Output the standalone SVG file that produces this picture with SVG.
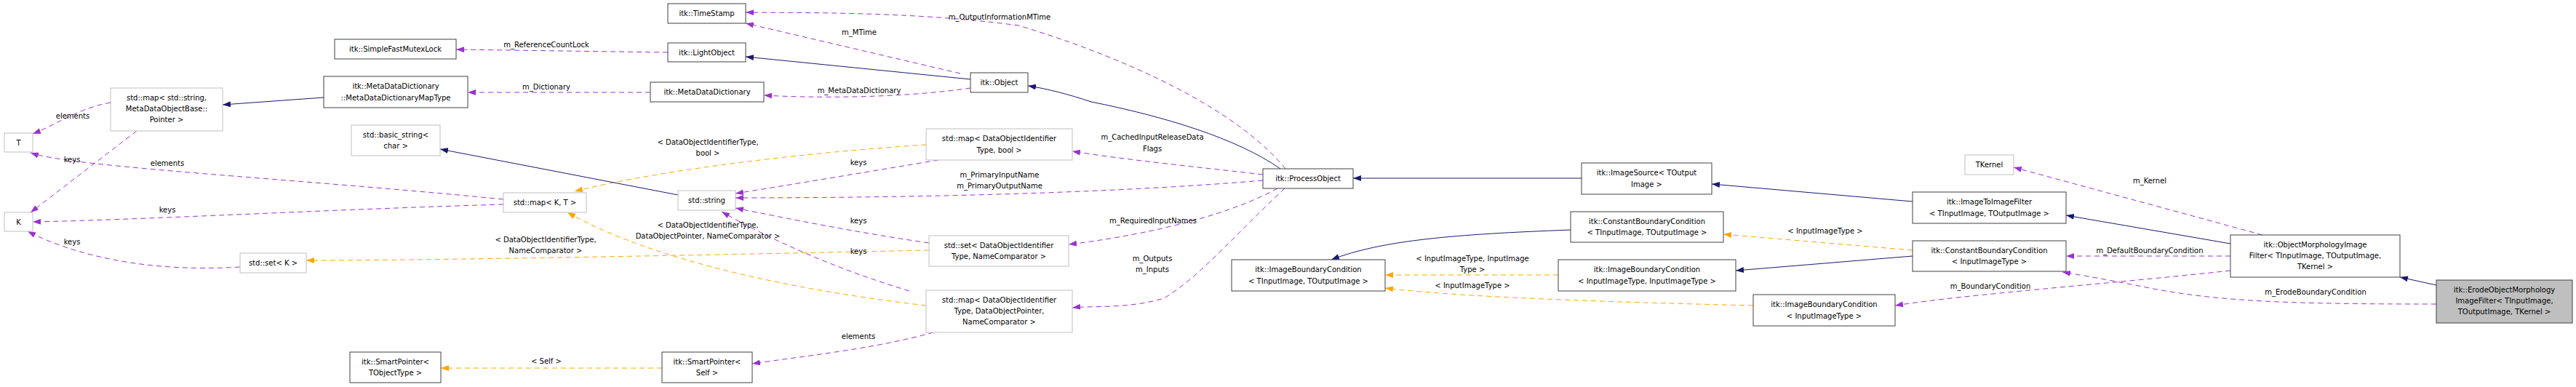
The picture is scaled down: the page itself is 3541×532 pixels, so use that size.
<svg xmlns="http://www.w3.org/2000/svg" width="3541" height="532" viewBox="0 0 3541 532">
<style>
text{font-family:"DejaVu Sans","Liberation Sans",sans-serif;font-size:10px;fill:#000;text-anchor:middle}
.n rect{fill:#fff;stroke:#404040;stroke-width:1}
.u rect{fill:#fff;stroke:#bfbfbf;stroke-width:1}
.c rect{fill:#bfbfbf;stroke:#404040;stroke-width:1}
.inh{fill:none;stroke:#191970;stroke-width:1}
.use{fill:none;stroke:#9a32cd;stroke-width:1;stroke-dasharray:7,5}
.tpl{fill:none;stroke:#ffa500;stroke-width:1;stroke-dasharray:7,5}
</style>
<defs>
<marker id="ab" markerUnits="userSpaceOnUse" markerWidth="11" markerHeight="8" refX="11" refY="4" orient="auto"><path d="M0,0L11,4L0,8z" fill="#191970"/></marker>
<marker id="ap" markerUnits="userSpaceOnUse" markerWidth="11" markerHeight="8" refX="11" refY="4" orient="auto"><path d="M0,0L11,4L0,8z" fill="#9a32cd"/></marker>
<marker id="ao" markerUnits="userSpaceOnUse" markerWidth="11" markerHeight="8" refX="11" refY="4" orient="auto"><path d="M0,0L11,4L0,8z" fill="#ffa500"/></marker>
</defs>
<rect width="3541" height="532" fill="#fff"/>
<g id="connectors">
<path class="inh" marker-end="url(#ab)" d="M445,134 L306,144"/>
<path class="use" marker-end="url(#ap)" d="M152,141 C110,148 80,170 45,184"/>
<path class="use" marker-end="url(#ap)" d="M188,180 L42,292"/>
<path class="use" marker-end="url(#ap)" d="M692,274 C400,245 100,230 42,210"/>
<path class="use" marker-end="url(#ap)" d="M692,281 C450,288 200,302 45,305"/>
<path class="use" marker-end="url(#ap)" d="M330,367 C200,375 100,350 38,318"/>
<path class="tpl" marker-end="url(#ao)" d="M1277,344 C1000,350 600,358 421,358"/>
<path class="tpl" marker-end="url(#ao)" d="M1273,199 C1100,210 900,235 790,263"/>
<path class="tpl" marker-end="url(#ao)" d="M1273,420 C1100,400 900,360 780,292"/>
<path class="inh" marker-end="url(#ab)" d="M932,268 L605,205"/>
<path class="use" marker-end="url(#ap)" d="M1290,220 C1200,235 1080,255 1011,266"/>
<path class="use" marker-end="url(#ap)" d="M1736,248 C1500,268 1200,272 1011,272"/>
<path class="use" marker-end="url(#ap)" d="M1277,334 C1180,320 1080,300 1011,286"/>
<path class="use" marker-end="url(#ap)" d="M1250,400 C1150,370 1060,330 992,291"/>
<path class="tpl" marker-end="url(#ao)" d="M910,506 L606,506"/>
<path class="use" marker-end="url(#ap)" d="M1283,457 C1200,480 1100,490 1034,500"/>
<path class="use" marker-end="url(#ap)" d="M918,72 L627,68"/>
<path class="use" marker-end="url(#ap)" d="M894,127 L643,127"/>
<path class="inh" marker-end="url(#ab)" d="M1334,109 L1025,78"/>
<path class="use" marker-end="url(#ap)" d="M1334,121 C1240,135 1120,135 1050,131"/>
<path class="use" marker-end="url(#ap)" d="M1320,101 L1025,32"/>
<path class="use" marker-end="url(#ap)" d="M1767,232 C1700,150 1550,80 1400,35 C1250,15 1100,18 1025,17"/>
<path class="inh" marker-end="url(#ab)" d="M1760,232 C1700,190 1600,160 1500,140 C1470,130 1440,122 1413,118"/>
<path class="use" marker-end="url(#ap)" d="M1736,240 C1650,230 1550,220 1474,208"/>
<path class="use" marker-end="url(#ap)" d="M1756,259 C1700,290 1600,320 1469,336"/>
<path class="use" marker-end="url(#ap)" d="M1766,259 C1700,320 1650,380 1600,410 C1550,425 1500,420 1474,423"/>
<path class="inh" marker-end="url(#ab)" d="M2174,245 L1860,245"/>
<path class="inh" marker-end="url(#ab)" d="M2629,277 L2353,253"/>
<path class="inh" marker-end="url(#ab)" d="M2159,316 C2000,322 1900,330 1830,357"/>
<path class="tpl" marker-end="url(#ao)" d="M2142,378 L1904,378"/>
<path class="tpl" marker-end="url(#ao)" d="M2410,420 C2200,415 2000,408 1904,396"/>
<path class="tpl" marker-end="url(#ao)" d="M2629,344 L2369,322"/>
<path class="inh" marker-end="url(#ab)" d="M2629,352 L2386,372"/>
<path class="use" marker-end="url(#ap)" d="M3110,323 L2768,230"/>
<path class="inh" marker-end="url(#ab)" d="M3066,335 L2840,296"/>
<path class="use" marker-end="url(#ap)" d="M3066,352 L2840,352"/>
<path class="use" marker-end="url(#ap)" d="M3066,372 C2900,390 2700,405 2605,420"/>
<path class="inh" marker-end="url(#ab)" d="M3349,392 L3299,381"/>
<path class="use" marker-end="url(#ap)" d="M3349,418 C3150,418 3050,415 2950,395 C2900,385 2860,378 2835,374"/>
</g>
<g id="labels">
<text x="100" y="163">elements</text>
<text x="99" y="223">keys</text>
<text x="230" y="228">elements</text>
<text x="230" y="292">keys</text>
<text x="99" y="336">keys</text>
<text x="751" y="65">m_ReferenceCountLock</text>
<text x="751" y="123">m_Dictionary</text>
<text x="973" y="199">&lt; DataObjectIdentifierType,</text>
<text x="973" y="214">bool &gt;</text>
<text x="973" y="313">&lt; DataObjectIdentifierType,</text>
<text x="973" y="328">DataObjectPointer, NameComparator &gt;</text>
<text x="750" y="333">&lt; DataObjectIdentifierType,</text>
<text x="750" y="348">NameComparator &gt;</text>
<text x="751" y="500">&lt; Self &gt;</text>
<text x="1374" y="27">m_OutputInformationMTime</text>
<text x="1181" y="48">m_MTime</text>
<text x="1181" y="128">m_MetaDataDictionary</text>
<text x="1180" y="227">keys</text>
<text x="1584" y="192">m_CachedInputReleaseData</text>
<text x="1584" y="208">Flags</text>
<text x="1374" y="244">m_PrimaryInputName</text>
<text x="1374" y="259">m_PrimaryOutputName</text>
<text x="1180" y="307">keys</text>
<text x="1585" y="307">m_RequiredInputNames</text>
<text x="1180" y="349">keys</text>
<text x="1584" y="359">m_Outputs</text>
<text x="1584" y="374">m_Inputs</text>
<text x="1180" y="466">elements</text>
<text x="2024" y="359">&lt; InputImageType, InputImage</text>
<text x="2024" y="374">Type &gt;</text>
<text x="2024" y="396">&lt; InputImageType &gt;</text>
<text x="2509" y="321">&lt; InputImageType &gt;</text>
<text x="2736" y="397">m_BoundaryCondition</text>
<text x="2955" y="348">m_DefaultBoundaryCondition</text>
<text x="2955" y="252">m_Kernel</text>
<text x="3183" y="405">m_ErodeBoundaryCondition</text>
</g>
<g id="T" class="u"><rect x="6" y="183" width="39" height="26"/><text x="25.5" y="200">T</text></g>
<g id="K" class="u"><rect x="6" y="292" width="39" height="26"/><text x="25.5" y="309">K</text></g>
<g id="mapStringMeta" class="u"><rect x="152" y="121" width="154" height="59"/><text x="229" y="138">std::map&lt; std::string,</text><text x="229" y="153">MetaDataObjectBase::</text><text x="229" y="168">Pointer &gt;</text></g>
<g id="setK" class="u"><rect x="330" y="348" width="91" height="27"/><text x="375.5" y="365">std::set&lt; K &gt;</text></g>
<g id="mutex" class="n"><rect x="460" y="54" width="167" height="27"/><text x="543.5" y="71">itk::SimpleFastMutexLock</text></g>
<g id="mapType" class="n"><rect x="445" y="105" width="198" height="43"/><text x="544" y="122">itk::MetaDataDictionary</text><text x="544" y="138">::MetaDataDictionaryMapType</text></g>
<g id="basicString" class="u"><rect x="483" y="172" width="122" height="42"/><text x="544" y="189">std::basic_string&lt;</text><text x="544" y="204">char &gt;</text></g>
<g id="spTObject" class="n"><rect x="481" y="484" width="125" height="42"/><text x="543.5" y="501">itk::SmartPointer&lt;</text><text x="543.5" y="516">TObjectType &gt;</text></g>
<g id="timeStamp" class="n"><rect x="918" y="5" width="107" height="27"/><text x="971.5" y="22">itk::TimeStamp</text></g>
<g id="lightObject" class="n"><rect x="918" y="59" width="107" height="26"/><text x="971.5" y="76">itk::LightObject</text></g>
<g id="metaDict" class="n"><rect x="894" y="113" width="156" height="27"/><text x="972" y="130">itk::MetaDataDictionary</text></g>
<g id="mapKT" class="u"><rect x="692" y="265" width="114" height="27"/><text x="749" y="282">std::map&lt; K, T &gt;</text></g>
<g id="stdString" class="u"><rect x="932" y="262" width="79" height="27"/><text x="971.5" y="279">std::string</text></g>
<g id="spSelf" class="n"><rect x="910" y="484" width="124" height="42"/><text x="972" y="501">itk::SmartPointer&lt;</text><text x="972" y="516">Self &gt;</text></g>
<g id="object" class="n"><rect x="1334" y="100" width="79" height="27"/><text x="1373.5" y="117">itk::Object</text></g>
<g id="mapBool" class="u"><rect x="1273" y="177" width="201" height="43"/><text x="1373.5" y="194">std::map&lt; DataObjectIdentifier</text><text x="1373.5" y="210">Type, bool &gt;</text></g>
<g id="setDO" class="u"><rect x="1277" y="324" width="192" height="42"/><text x="1373" y="341">std::set&lt; DataObjectIdentifier</text><text x="1373" y="356">Type, NameComparator &gt;</text></g>
<g id="mapDO" class="u"><rect x="1273" y="399" width="201" height="58"/><text x="1373.5" y="416">std::map&lt; DataObjectIdentifier</text><text x="1373.5" y="431">Type, DataObjectPointer,</text><text x="1373.5" y="446">NameComparator &gt;</text></g>
<g id="processObject" class="n"><rect x="1736" y="232" width="124" height="27"/><text x="1798" y="249">itk::ProcessObject</text></g>
<g id="imageSource" class="n"><rect x="2174" y="224" width="179" height="43"/><text x="2263.5" y="241">itk::ImageSource&lt; TOutput</text><text x="2263.5" y="257">Image &gt;</text></g>
<g id="constBC_TT" class="n"><rect x="2159" y="291" width="210" height="42"/><text x="2264" y="308">itk::ConstantBoundaryCondition</text><text x="2264" y="323">&lt; TInputImage, TOutputImage &gt;</text></g>
<g id="imgBC_TT" class="n"><rect x="1693" y="357" width="211" height="43"/><text x="1798.5" y="374">itk::ImageBoundaryCondition</text><text x="1798.5" y="390">&lt; TInputImage, TOutputImage &gt;</text></g>
<g id="imgBC_II" class="n"><rect x="2142" y="357" width="244" height="43"/><text x="2264" y="374">itk::ImageBoundaryCondition</text><text x="2264" y="390">&lt; InputImageType, InputImageType &gt;</text></g>
<g id="tkernel" class="u"><rect x="2701" y="213" width="67" height="27"/><text x="2734.5" y="230">TKernel</text></g>
<g id="imageToImage" class="n"><rect x="2629" y="264" width="211" height="43"/><text x="2734.5" y="281">itk::ImageToImageFilter</text><text x="2734.5" y="297">&lt; TInputImage, TOutputImage &gt;</text></g>
<g id="constBC_I" class="n"><rect x="2629" y="331" width="211" height="42"/><text x="2734.5" y="348">itk::ConstantBoundaryCondition</text><text x="2734.5" y="363">&lt; InputImageType &gt;</text></g>
<g id="imgBC_I" class="n"><rect x="2410" y="405" width="195" height="43"/><text x="2507.5" y="422">itk::ImageBoundaryCondition</text><text x="2507.5" y="438">&lt; InputImageType &gt;</text></g>
<g id="objMorph" class="n"><rect x="3066" y="323" width="233" height="58"/><text x="3182.5" y="340">itk::ObjectMorphologyImage</text><text x="3182.5" y="355">Filter&lt; TInputImage, TOutputImage,</text><text x="3182.5" y="370">TKernel &gt;</text></g>
<g id="erode" class="c"><rect x="3349" y="385" width="187" height="59"/><text x="3442.5" y="402">itk::ErodeObjectMorphology</text><text x="3442.5" y="417">ImageFilter&lt; TInputImage,</text><text x="3442.5" y="432">TOutputImage, TKernel &gt;</text></g>
</svg>
